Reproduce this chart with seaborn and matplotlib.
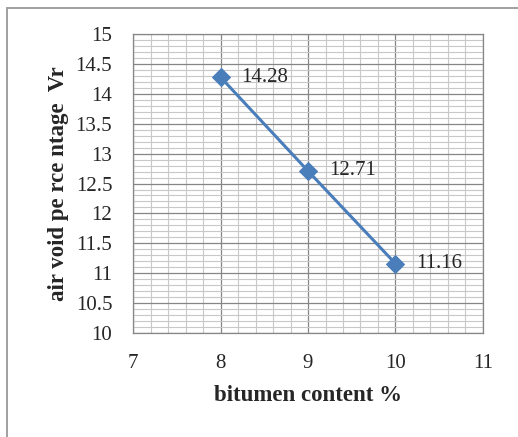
import matplotlib
matplotlib.use("Agg")
import matplotlib.pyplot as plt
import seaborn as sns
import pandas as pd
from matplotlib.ticker import MultipleLocator
from matplotlib.patches import Rectangle

# bitumen content vs air voids
bitumen = [8, 9, 10]
air_voids = [14.28, 12.71, 11.16]
point_labels = ["14.28", "12.71", "11.16"]
y_ticks = [10, 10.5, 11, 11.5, 12, 12.5, 13, 13.5, 14, 14.5, 15]
y_tick_labels = ["10", "10.5", "11", "11.5", "12", "12.5", "13", "13.5", "14", "14.5", "15"]

df = pd.DataFrame({"bitumen": bitumen, "voids": air_voids})

sns.set_style("white")
plt.rcParams["font.family"] = ["Liberation Serif", "DejaVu Serif"]

fig = plt.figure(figsize=(5.18, 4.37), dpi=100)
ax = fig.add_axes([0.2568, 0.238, 0.6756, 0.684])

sns.lineplot(data=df, x="bitumen", y="voids", ax=ax, color="#4a7ebb",
             linewidth=2.2, marker="D", markersize=9, markeredgecolor="#4a7ebb")

for x, y, lab in zip(bitumen, air_voids, point_labels):
    ax.annotate(lab, (x, y), xytext=(15, 0), textcoords="offset points",
                va="center", ha="left", fontsize=15)

ax.set_xlim(7, 11)
ax.set_ylim(10, 15)
ax.xaxis.set_major_locator(MultipleLocator(1))
ax.xaxis.set_minor_locator(MultipleLocator(0.2))
ax.yaxis.set_minor_locator(MultipleLocator(0.1))
ax.set_yticks(y_ticks)
ax.set_yticklabels(y_tick_labels)

ax.grid(which="minor", color="#c8c8c8", linewidth=0.8)
ax.grid(which="major", color="#868686", linewidth=0.9)
ax.set_axisbelow(True)

for s in ax.spines.values():
    s.set_color("#868686")
    s.set_linewidth(0.9)

ax.tick_params(axis="both", which="major", length=6, color="#868686",
               labelsize=15, direction="out")
ax.tick_params(axis="y", which="major", pad=9)
ax.tick_params(axis="x", which="major", pad=9)
ax.tick_params(axis="both", which="minor", length=0)

ax.set_xlabel("bitumen content %", fontsize=16.5, fontweight="bold", labelpad=9)
ax.set_ylabel("air void pe rce ntage  Vr", fontsize=16.5, fontweight="bold", labelpad=5)

# outer chart border (cropped at right and bottom)
fig.patches.append(Rectangle((7 / 518, -0.05), 1.1, 1 - 8 / 437 + 0.05,
                             transform=fig.transFigure, fill=False,
                             edgecolor="#a0a0a0", linewidth=1.4))

fig.savefig("out.png", dpi=100)
